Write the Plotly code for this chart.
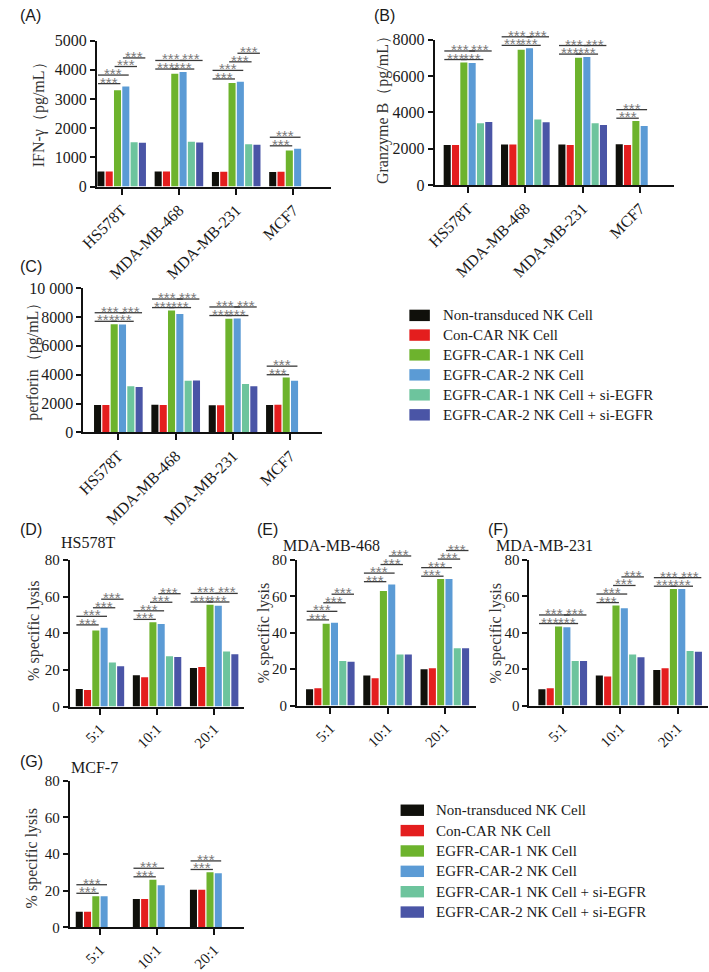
import plotly.graph_objects as go

W, H = 709, 972

SERIES = ["Non-transduced NK Cell", "Con-CAR NK Cell", "EGFR-CAR-1 NK Cell",
          "EGFR-CAR-2 NK Cell", "EGFR-CAR-1 NK Cell + si-EGFR", "EGFR-CAR-2 NK Cell + si-EGFR"]
COLORS = ["#10100b", "#e41e1e", "#6db32d", "#5b9bd5", "#6dc49d", "#4a55a6"]

cell_lines = ["HS578T", "MDA-MB-468", "MDA-MB-231", "MCF7"]
ratios = ["5:1", "10:1", "20:1"]

# (A) IFN-gamma (pg/mL)
ifn_nontrans = [520, 520, 500, 500]
ifn_concar = [520, 520, 510, 510]
ifn_car1 = [3300, 3870, 3550, 1240]
ifn_car2 = [3430, 3930, 3590, 1300]
ifn_car1_si = [1520, 1540, 1450, None]
ifn_car2_si = [1500, 1510, 1430, None]

# (B) Granzyme B (pg/mL)
gzb_nontrans = [2200, 2230, 2230, 2250]
gzb_concar = [2200, 2230, 2200, 2200]
gzb_car1 = [6750, 7450, 7000, 3520]
gzb_car2 = [6720, 7530, 7050, 3250]
gzb_car1_si = [3400, 3600, 3400, None]
gzb_car2_si = [3470, 3450, 3300, None]

# (C) perforin (pg/mL)
prf_nontrans = [1900, 1920, 1880, 1900]
prf_concar = [1900, 1900, 1880, 1920]
prf_car1 = [7500, 8450, 7880, 3800]
prf_car2 = [7480, 8200, 7900, 3580]
prf_car1_si = [3200, 3580, 3350, None]
prf_car2_si = [3150, 3600, 3200, None]

# (D) HS578T % specific lysis
d_nontrans = [9.5, 17, 21]
d_concar = [9, 16, 21.5]
d_car1 = [41.5, 46, 55.5]
d_car2 = [43, 45, 55]
d_car1_si = [24, 27.5, 30]
d_car2_si = [22, 27, 28.5]

# (E) MDA-MB-468 % specific lysis
e_nontrans = [9, 16.5, 20]
e_concar = [9.5, 15, 20.5]
e_car1 = [45, 63, 69.5]
e_car2 = [45.5, 66.5, 69.5]
e_car1_si = [24.5, 28, 31.5]
e_car2_si = [24, 28, 31.5]

# (F) MDA-MB-231 % specific lysis
f_nontrans = [9, 16.5, 19.5]
f_concar = [9.5, 16, 20.5]
f_car1 = [43.5, 55, 64]
f_car2 = [43, 53.5, 64]
f_car1_si = [24.5, 28, 30]
f_car2_si = [24.5, 26.5, 29.5]

# (G) MCF-7 % specific lysis
g_nontrans = [8.5, 15.5, 20.5]
g_concar = [8.5, 15.5, 20.5]
g_car1 = [17, 26, 30]
g_car2 = [17, 23, 29.5]

BARGAP = 0.13
GROUPGAP = 0.15

SERIF = "Liberation Serif"
SANS = "Liberation Sans"
TXT = "#1a1a1a"

panels = [
    dict(letter="(A)", lx=1, ly=8, cats=cell_lines,
         data=[ifn_nontrans, ifn_concar, ifn_car1, ifn_car2, ifn_car1_si, ifn_car2_si],
         px=(82, 322), py=(34.3, 187.7), xr=(-0.43, 3.66), ymax=5000,
         ticks=[0, 1000, 2000, 3000, 4000, 5000], ticktext=None,
         ytitle="IFN-γ（pg/mL）", yt_xy=(22, 108), sub=None,
         styles=["stag", "pair", "stag", "two"], tfont=16),
    dict(letter="(B)", lx=364, ly=8, cats=cell_lines,
         data=[gzb_nontrans, gzb_concar, gzb_car1, gzb_car2, gzb_car1_si, gzb_car2_si],
         px=(428, 673), py=(33.3, 186), xr=(-0.58, 3.59), ymax=8000,
         ticks=[0, 2000, 4000, 6000, 8000], ticktext=None,
         ytitle="Granzyme B（pg/mL）", yt_xy=(375, 103), sub=None,
         styles=["pair", "pair", "pair", "two"], tfont=16),
    dict(letter="(C)", lx=1, ly=272, cats=cell_lines,
         data=[prf_nontrans, prf_concar, prf_car1, prf_car2, prf_car1_si, prf_car2_si],
         px=(68, 313), py=(294.3, 446), xr=(-0.61, 3.56), ymax=10000,
         ticks=[0, 2000, 4000, 6000, 8000, 10000],
         ticktext=["0", "2000", "4000", "6000", "8000", "10 000"],
         ytitle="perforin（pg/mL）", yt_xy=(17, 368), sub=None,
         styles=["pair", "pair", "pair", "two"], tfont=16),
    dict(letter="(D)", lx=1, ly=548, cats=ratios,
         data=[d_nontrans, d_concar, d_car1, d_car2, d_car1_si, d_car2_si],
         px=(54, 233), py=(580, 734), xr=(-0.53, 2.53), ymax=80,
         ticks=[0, 20, 40, 60, 80], ticktext=None,
         ytitle="% specific lysis", yt_xy=(18, 655), sub=("HS578T", 43, 562),
         styles=["stag", "stag", "pair"], tfont=15),
    dict(letter="(E)", lx=244, ly=548, cats=ratios,
         data=[e_nontrans, e_concar, e_car1, e_car2, e_car1_si, e_car2_si],
         px=(287, 470), py=(580, 733), xr=(-0.58, 2.54), ymax=80,
         ticks=[0, 20, 40, 60, 80], ticktext=None,
         ytitle="% specific lysis", yt_xy=(253, 657), sub=("MDA-MB-468", 270, 565),
         styles=["stag", "stag", "stag"], tfont=15),
    dict(letter="(F)", lx=481, ly=548, cats=ratios,
         data=[f_nontrans, f_concar, f_car1, f_car2, f_car1_si, f_car2_si],
         px=(525, 708), py=(580, 733), xr=(-0.58, 2.53), ymax=80,
         ticks=[0, 20, 40, 60, 80], ticktext=None,
         ytitle="% specific lysis", yt_xy=(491, 657), sub=("MDA-MB-231", 489, 565),
         styles=["pair", "stag", "pair"], tfont=15),
    dict(letter="(G)", lx=1, ly=792, cats=ratios,
         data=[g_nontrans, g_concar, g_car1, g_car2, [None] * 3, [None] * 3],
         px=(54, 233), py=(812, 966), xr=(-0.53, 2.53), ymax=80,
         ticks=[0, 20, 40, 60, 80], ticktext=None,
         ytitle="% specific lysis", yt_xy=(15, 894), sub=("MCF-7", 53, 798),
         styles=["two", "two", "two"], tfont=15),
]

BRACKETS = {
    "stag": [(0, 2, 0), (0, 3, 1), (2, 4, 2), (3, 5, 3)],
    "pair": [(0, 2, 0), (2, 4, 0), (0, 3, 1), (3, 5, 1)],
    "two": [(0, 2, 0), (0, 3, 1)],
}

fig = go.Figure()
annotations = []
shapes = []


def pxx(p, c):
    x0, x1 = p["px"]
    r0, r1 = p["xr"]
    return x0 + (c - r0) / (r1 - r0) * (x1 - x0)


def pxy(p, v):
    yt, yb = p["py"]
    return yb - v / p["ymax"] * (yb - yt)


slot = (1 - BARGAP) / 6

for i, p in enumerate(panels, start=1):
    xa = "x" if i == 1 else f"x{i}"
    ya = "y" if i == 1 else f"y{i}"
    for k, vals in enumerate(p["data"]):
        fig.add_trace(go.Bar(x=p["cats"], y=vals, name=SERIES[k], marker_color=COLORS[k],
                             marker_line_width=0, showlegend=False, xaxis=xa, yaxis=ya,
                             hoverinfo="skip"))
    x0, x1 = p["px"]
    yt, yb = p["py"]
    axfont = dict(family=SERIF, size=p["tfont"], color=TXT)
    fig.layout[("xaxis" if i == 1 else f"xaxis{i}")] = dict(
        domain=[x0 / W, x1 / W], range=list(p["xr"]), type="category",
        categoryorder="array", categoryarray=p["cats"], anchor=ya,
        showline=True, linecolor="#111", linewidth=2, ticks="outside", ticklen=6,
        tickwidth=2, tickcolor="#111", tickangle=-45, tickfont=axfont,
        showgrid=False, zeroline=False, fixedrange=True)
    fig.layout[("yaxis" if i == 1 else f"yaxis{i}")] = dict(
        domain=[1 - yb / H, 1 - yt / H], range=[0, p["ymax"]], anchor=xa,
        tickvals=p["ticks"], ticktext=p["ticktext"] or [str(t) for t in p["ticks"]],
        showline=True, linecolor="#111", linewidth=2, ticks="outside", ticklen=5,
        tickwidth=2, tickcolor="#111", tickfont=axfont, showgrid=False,
        zeroline=False, fixedrange=True)

    annotations.append(dict(text=p["letter"], x=p["lx"] / W, y=1 - p["ly"] / H,
                            xref="paper", yref="paper", xanchor="left", yanchor="middle",
                            showarrow=False, font=dict(family=SANS, size=16, color=TXT)))
    annotations.append(dict(text=p["ytitle"], x=p["yt_xy"][0] / W, y=1 - p["yt_xy"][1] / H,
                            xref="paper", yref="paper", xanchor="center", yanchor="middle",
                            textangle=-90, showarrow=False,
                            font=dict(family=SERIF, size=16, color="#333")))
    if p["sub"]:
        t, sx, sy = p["sub"]
        annotations.append(dict(text=t, x=sx / W, y=1 - sy / H, xref="paper", yref="paper",
                                xanchor="left", yanchor="middle", showarrow=False,
                                font=dict(family=SERIF, size=16, color=TXT)))

    # significance brackets
    step = 9.0
    pad = 3.0
    for c, style in enumerate(p["styles"]):
        vals = [d[c] for d in p["data"] if d[c] is not None]
        base_px = pxy(p, max(vals)) - pad
        for (a, b, lev) in BRACKETS[style]:
            ca = c - (1 - BARGAP) / 2 + (a + 0.5) * slot
            cb = c - (1 - BARGAP) / 2 + (b + 0.5) * slot
            xa_px = pxx(p, ca - 0.35 * slot)
            xb_px = pxx(p, cb + 0.35 * slot)
            y_px = base_px - lev * step
            shapes.append(dict(type="line", xref="paper", yref="paper",
                               x0=xa_px / W, x1=xb_px / W, y0=1 - y_px / H, y1=1 - y_px / H,
                               line=dict(color="#3a3a3a", width=1.3)))
            annotations.append(dict(text="***", x=(xa_px + xb_px) / 2 / W, y=1 - y_px / H,
                                    xref="paper", yref="paper", xanchor="center",
                                    yanchor="bottom", yshift=-9, showarrow=False,
                                    font=dict(family=SANS, size=15, color="#7a7a7a")))

# legends
legends = [dict(sx=402, sw=21, tx=434, rows=[323, 343.7, 364.5, 385.5, 406.5, 427.5]),
           dict(sx=393, sw=24, tx=427, rows=[843, 864.4, 885.8, 907.2, 928.6, 950])]
for lg in legends:
    for k, ry in enumerate(lg["rows"]):
        shapes.append(dict(type="rect", xref="paper", yref="paper",
                           x0=lg["sx"] / W, x1=(lg["sx"] + lg["sw"]) / W,
                           y0=1 - (ry + 6) / H, y1=1 - (ry - 6) / H,
                           fillcolor=COLORS[k], line=dict(width=0)))
        annotations.append(dict(text=SERIES[k], x=lg["tx"] / W, y=1 - ry / H,
                                xref="paper", yref="paper", xanchor="left", yanchor="middle",
                                showarrow=False, font=dict(family=SERIF, size=15, color=TXT)))

fig.update_layout(width=W, height=H, autosize=False, margin=dict(l=0, r=0, t=0, b=0, pad=0),
                  paper_bgcolor="white", plot_bgcolor="white",
                  barmode="group", bargap=BARGAP, bargroupgap=GROUPGAP,
                  annotations=annotations, shapes=shapes, showlegend=False)

fig.write_html("out.html", config={"displayModeBar": False, "staticPlot": True},
               post_script="document.body.style.margin='0';document.body.style.overflow='hidden';")
